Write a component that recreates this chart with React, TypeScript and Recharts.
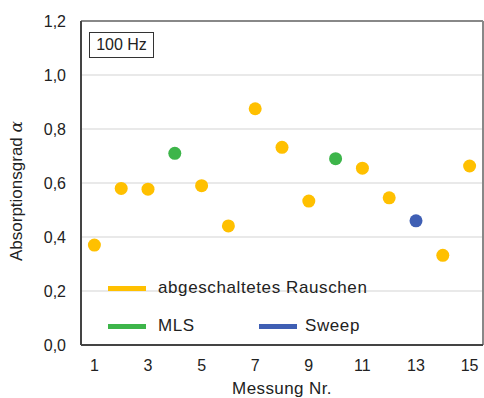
import { ScatterChart, Scatter, XAxis, YAxis, CartesianGrid, ReferenceLine, Legend } from 'recharts';

// Messung Nr. 1..15 and measured absorption coefficient
const messungen = [1, 2, 3, 4, 5, 6, 7, 8, 9, 10, 11, 12, 13, 14, 15];
const alpha = [0.37, 0.58, 0.577, 0.71, 0.59, 0.441, 0.875, 0.732, 0.533, 0.69, 0.655, 0.545, 0.46, 0.332, 0.663];
const methode = ['R', 'R', 'R', 'M', 'R', 'R', 'R', 'R', 'R', 'M', 'R', 'R', 'S', 'R', 'R'];

const serienKeys = ['R', 'M', 'S'];
const serienNamen = ['abgeschaltetes Rauschen', 'MLS', 'Sweep'];
const serienFarben = ['#FFC000', '#3DB54A', '#3F5FB4'];

const xTicks = [1, 3, 5, 7, 9, 11, 13, 15];
const yTicks = [0, 0.2, 0.4, 0.6, 0.8, 1.0, 1.2];

const FONT = '"Liberation Sans", Arial, sans-serif';

const serien = serienKeys.map((key, i) => ({
    name: serienNamen[i],
    color: serienFarben[i],
    data: messungen
        .map((m, j) => ({ x: m, y: alpha[j], k: methode[j] }))
        .filter((d) => d.k === key),
}));

const fmt = (v: number) => v.toFixed(1).replace('.', ',');

// legend drawn inside the plot, two rows
const LegendBox = () => {
    const pos = [
        { left: 108, top: 288 },
        { left: 108, top: 326 },
        { left: 259, top: 326 },
    ];
    return (
        <div style={{ position: 'relative', width: 0, height: 0 }}>
            {serien.map((s, i) => (
                <div
                    key={s.name}
                    style={{
                        position: 'absolute',
                        left: pos[i].left,
                        top: pos[i].top - 12,
                        height: 24,
                        display: 'flex',
                        alignItems: 'center',
                        whiteSpace: 'nowrap',
                        fontFamily: FONT,
                        fontSize: 17,
                        letterSpacing: 0.6,
                        color: '#222',
                    }}
                >
                    <span style={{ display: 'inline-block', width: 38, height: 5, background: s.color, marginRight: i === 2 ? 8 : 12 }} />
                    {s.name}
                </div>
            ))}
        </div>
    );
};

export default function App() {
    return (
        <div style={{ position: 'absolute', left: 0, top: 0, width: 484, height: 398, background: '#fff' }}>
            <ScatterChart width={484} height={398} margin={{ top: 21, right: 1, left: 0, bottom: 0 }}>
                <CartesianGrid vertical={false} stroke="#e2e2e2" strokeWidth={1.5} />
                <XAxis
                    type="number"
                    dataKey="x"
                    domain={[0.5, 15.5]}
                    ticks={xTicks}
                    height={53}
                    tickLine={false}
                    tickSize={0}
                    tickMargin={15}
                    axisLine={{ stroke: '#444', strokeWidth: 2 }}
                    tick={{ fill: '#222', fontSize: 16, fontFamily: FONT }}
                    label={{ value: 'Messung Nr.', position: 'insideBottom', offset: 4, fill: '#222', fontSize: 17, fontFamily: FONT, letterSpacing: 0.4 }}
                />
                <YAxis
                    type="number"
                    dataKey="y"
                    domain={[0, 1.2]}
                    ticks={yTicks}
                    width={81}
                    tickLine={false}
                    tickSize={0}
                    tickMargin={15}
                    tickFormatter={fmt}
                    axisLine={{ stroke: '#444', strokeWidth: 2 }}
                    tick={{ fill: '#222', fontSize: 16, fontFamily: FONT }}
                    label={{
                        content: (props: any) => {
                            const vb = props.viewBox;
                            const cx = 16;
                            const cy = vb.y + vb.height / 2 + 8;
                            return (
                                <text
                                    x={cx}
                                    y={cy}
                                    transform={`rotate(-90 ${cx} ${cy})`}
                                    textAnchor="middle"
                                    dominantBaseline="central"
                                    fill="#222"
                                    fontSize={17}
                                    fontFamily={FONT}
                                >
                                    Absorptionsgrad <tspan fontFamily='"DejaVu Serif", serif' fontStyle="italic">α</tspan>
                                </text>
                            );
                        },
                    }}
                />
                <ReferenceLine y={1.2} stroke="#888" strokeWidth={2} />
                <ReferenceLine x={15.5} stroke="#888" strokeWidth={2} />
                {serien.map((s) => (
                    <Scatter
                        key={s.name}
                        name={s.name}
                        data={s.data}
                        fill={s.color}
                        isAnimationActive={false}
                        shape={(p: any) => <circle cx={p.cx} cy={p.cy} r={6.5} fill={s.color} />}
                    />
                ))}
                <Legend content={<LegendBox />} wrapperStyle={{ left: 0, top: 0, width: 0, height: 0 }} />
            </ScatterChart>
            <div
                style={{
                    position: 'absolute',
                    left: 89,
                    top: 32,
                    width: 65,
                    height: 26,
                    boxSizing: 'border-box',
                    border: '1.5px solid #333',
                    display: 'flex',
                    alignItems: 'center',
                    justifyContent: 'center',
                    fontFamily: FONT,
                    fontSize: 16,
                    color: '#222',
                    background: '#fff',
                }}
            >
                100 Hz
            </div>
        </div>
    );
}
